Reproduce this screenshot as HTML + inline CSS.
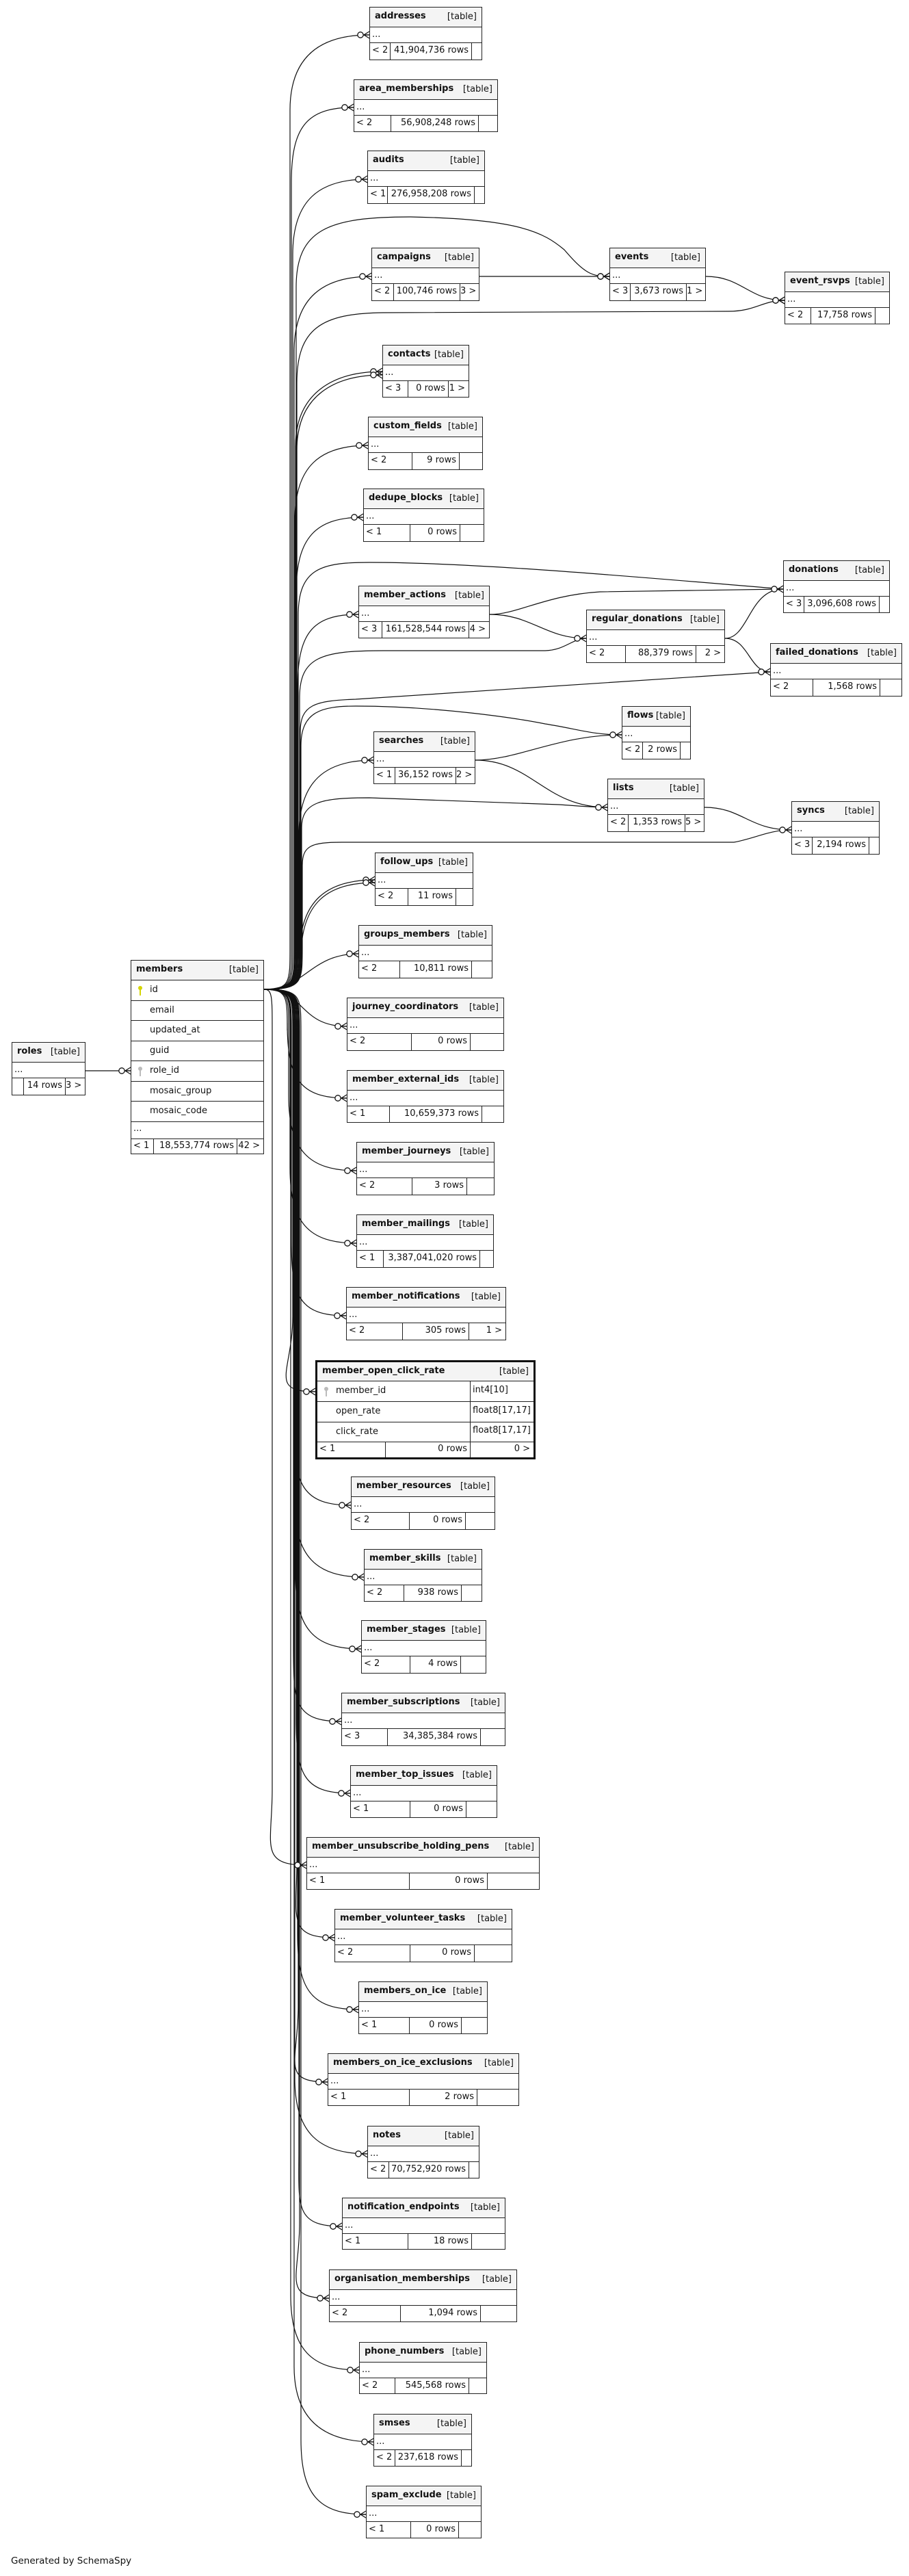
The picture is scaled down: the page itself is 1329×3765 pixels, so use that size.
<!DOCTYPE html>
<html><head><meta charset="utf-8">
<style>
*{box-sizing:border-box;margin:0;padding:0}
body{width:1329px;height:3765px;background:#fff;position:relative;font-family:"DejaVu Sans","Liberation Sans",sans-serif;font-size:13px;color:#111;overflow:hidden}
svg#L{position:absolute;left:0;top:0}
.t{position:absolute;border:1.5px solid #222;background:#fff}
.h{position:absolute;left:0;right:0;top:0;height:29px;background:#f4f4f4;border-bottom:1.5px solid #222}
.h b{position:absolute;left:7px;top:5px;font-weight:bold}
.h i{position:absolute;right:7px;top:6px;font-style:normal}
.r{position:absolute;left:0;right:0;top:29px;height:23px;border-bottom:1.5px solid #222;padding:2px 0 0 3px;line-height:18px}
.f{position:absolute;left:0;right:0;bottom:0;top:52px}
.f span{position:absolute;top:0;bottom:0;line-height:22px;white-space:nowrap}
.f .a{left:3px}
.f .m{border-left:1.5px solid #222;text-align:right;padding-right:4px}
.f .z{border-left:1.5px solid #222;right:0;text-align:right;padding-right:5px}
.mr{position:absolute;left:0;right:0;border-bottom:1.5px solid #222;padding-left:27px;line-height:28px}
.key{position:absolute;left:9px;top:7px}
#gen{position:absolute;left:16px;top:3735px;font-size:13.5px}
</style></head><body>
<svg id="L" width="1329" height="3765" xmlns="http://www.w3.org/2000/svg"><g id="paths" fill="none" stroke="#111" stroke-width="1.2"></g><g id="marks" stroke="#111" stroke-width="1.3"></g></svg>

<!-- roles -->
<div class="t" style="left:17px;top:1523px;width:108px;height:78px"><div class="h"><b>roles</b><i>[table]</i></div><div class="r">...</div><div class="f"><span class="a"></span><span class="m" style="left:16px;width:61px">14 rows</span><span class="z" style="left:77px">3 &gt;</span></div></div>

<!-- members -->
<div class="t" style="left:191px;top:1403px;width:195px;height:284px">
<div class="h"><b>members</b><i>[table]</i></div>
<div class="mr" style="top:29px;height:29.5px"><svg class="key" width="8" height="16"><circle cx="4" cy="4" r="3" fill="#d4d400"/><rect x="3" y="6" width="2" height="9" fill="#d4d400"/></svg>id</div>
<div class="mr" style="top:58.5px;height:29.5px">email</div>
<div class="mr" style="top:88px;height:29.5px">updated_at</div>
<div class="mr" style="top:117.5px;height:29.5px">guid</div>
<div class="mr" style="top:147px;height:29.5px"><svg class="key" width="8" height="16"><circle cx="4" cy="4" r="3" fill="#bbb"/><rect x="3" y="6" width="2" height="9" fill="#bbb"/></svg>role_id</div>
<div class="mr" style="top:176.5px;height:29.5px">mosaic_group</div>
<div class="mr" style="top:206px;height:29.5px">mosaic_code</div>
<div class="mr" style="top:235.5px;height:25px;padding-left:3px;line-height:20px">...</div>
<div class="f" style="top:260px"><span class="a">&lt; 1</span><span class="m" style="left:32px;width:122px">18,553,774 rows</span><span class="z" style="left:154px">42 &gt;</span></div>
</div>

<!-- member_open_click_rate -->
<div class="t" style="left:461px;top:1988px;width:322px;height:145px;border:3px solid #111">
<div class="h" style="height:28px"><b>member_open_click_rate</b><i>[table]</i></div>
<div class="mr" style="top:28px;height:30px">member_id<svg class="key" width="8" height="16"><circle cx="4" cy="4" r="3" fill="#bbb"/><rect x="3" y="6" width="2" height="9" fill="#bbb"/></svg></div>
<div class="mr" style="top:58px;height:29.5px">open_rate</div>
<div class="mr" style="top:87.5px;height:29.5px">click_rate</div>
<div style="position:absolute;left:223px;top:28px;height:89px;border-left:1.5px solid #222;width:95px">
<div style="position:absolute;left:3px;top:5px">int4[10]</div>
<div style="position:absolute;left:3px;top:35px">float8[17,17]</div>
<div style="position:absolute;left:3px;top:64px">float8[17,17]</div></div>
<div class="f" style="top:117px"><span class="a" style="line-height:20px">&lt; 1</span><span class="m" style="left:99px;width:124px;line-height:20px">0 rows</span><span class="z" style="left:223px;line-height:20px">0 &gt;</span></div>
</div>

<div id="tables">
<div class="t" style="left:540px;top:10px;width:165px;height:78px"><div class="h"><b>addresses</b><i>[table]</i></div><div class="r">...</div><div class="f"><span class="a">&lt; 2</span><span class="m" style="left:29px;width:119px">41,904,736 rows</span><span class="z" style="left:148px"></span></div></div>
<div class="t" style="left:517px;top:116px;width:211px;height:77px"><div class="h"><b>area_memberships</b><i>[table]</i></div><div class="r">...</div><div class="f"><span class="a">&lt; 2</span><span class="m" style="left:53px;width:128px">56,908,248 rows</span><span class="z" style="left:181px"></span></div></div>
<div class="t" style="left:537px;top:220px;width:172px;height:78px"><div class="h"><b>audits</b><i>[table]</i></div><div class="r">...</div><div class="f"><span class="a">&lt; 1</span><span class="m" style="left:28px;width:127px">276,958,208 rows</span><span class="z" style="left:155px"></span></div></div>
<div class="t" style="left:543px;top:362px;width:158px;height:78px"><div class="h"><b>campaigns</b><i>[table]</i></div><div class="r">...</div><div class="f"><span class="a">&lt; 2</span><span class="m" style="left:31px;width:97px">100,746 rows</span><span class="z" style="left:128px">3 &gt;</span></div></div>
<div class="t" style="left:891px;top:362px;width:141px;height:78px"><div class="h"><b>events</b><i>[table]</i></div><div class="r">...</div><div class="f"><span class="a">&lt; 3</span><span class="m" style="left:29px;width:82px">3,673 rows</span><span class="z" style="left:111px">1 &gt;</span></div></div>
<div class="t" style="left:1147px;top:397px;width:154px;height:77px"><div class="h"><b>event_rsvps</b><i>[table]</i></div><div class="r">...</div><div class="f"><span class="a">&lt; 2</span><span class="m" style="left:37px;width:94px">17,758 rows</span><span class="z" style="left:131px"></span></div></div>
<div class="t" style="left:559px;top:504px;width:127px;height:77px"><div class="h"><b>contacts</b><i>[table]</i></div><div class="r">...</div><div class="f"><span class="a">&lt; 3</span><span class="m" style="left:36px;width:59px">0 rows</span><span class="z" style="left:95px">1 &gt;</span></div></div>
<div class="t" style="left:538px;top:609px;width:168px;height:78px"><div class="h"><b>custom_fields</b><i>[table]</i></div><div class="r">...</div><div class="f"><span class="a">&lt; 2</span><span class="m" style="left:63px;width:69px">9 rows</span><span class="z" style="left:132px"></span></div></div>
<div class="t" style="left:531px;top:714px;width:177px;height:78px"><div class="h"><b>dedupe_blocks</b><i>[table]</i></div><div class="r">...</div><div class="f"><span class="a">&lt; 1</span><span class="m" style="left:67px;width:73px">0 rows</span><span class="z" style="left:140px"></span></div></div>
<div class="t" style="left:1145px;top:819px;width:156px;height:77px"><div class="h"><b>donations</b><i>[table]</i></div><div class="r">...</div><div class="f"><span class="a">&lt; 3</span><span class="m" style="left:29px;width:110px">3,096,608 rows</span><span class="z" style="left:139px"></span></div></div>
<div class="t" style="left:524px;top:856px;width:192px;height:77px"><div class="h"><b>member_actions</b><i>[table]</i></div><div class="r">...</div><div class="f"><span class="a">&lt; 3</span><span class="m" style="left:33px;width:127px">161,528,544 rows</span><span class="z" style="left:160px">4 &gt;</span></div></div>
<div class="t" style="left:857px;top:891px;width:203px;height:78px"><div class="h"><b>regular_donations</b><i>[table]</i></div><div class="r">...</div><div class="f"><span class="a">&lt; 2</span><span class="m" style="left:56px;width:103px">88,379 rows</span><span class="z" style="left:159px">2 &gt;</span></div></div>
<div class="t" style="left:1126px;top:940px;width:193px;height:78px"><div class="h"><b>failed_donations</b><i>[table]</i></div><div class="r">...</div><div class="f"><span class="a">&lt; 2</span><span class="m" style="left:61px;width:98px">1,568 rows</span><span class="z" style="left:159px"></span></div></div>
<div class="t" style="left:909px;top:1032px;width:101px;height:78px"><div class="h"><b>flows</b><i>[table]</i></div><div class="r">...</div><div class="f"><span class="a">&lt; 2</span><span class="m" style="left:29px;width:55px">2 rows</span><span class="z" style="left:84px"></span></div></div>
<div class="t" style="left:546px;top:1069px;width:149px;height:77px"><div class="h"><b>searches</b><i>[table]</i></div><div class="r">...</div><div class="f"><span class="a">&lt; 1</span><span class="m" style="left:30px;width:89px">36,152 rows</span><span class="z" style="left:119px">2 &gt;</span></div></div>
<div class="t" style="left:888px;top:1138px;width:142px;height:78px"><div class="h"><b>lists</b><i>[table]</i></div><div class="r">...</div><div class="f"><span class="a">&lt; 2</span><span class="m" style="left:29px;width:83px">1,353 rows</span><span class="z" style="left:112px">5 &gt;</span></div></div>
<div class="t" style="left:1157px;top:1171px;width:129px;height:78px"><div class="h"><b>syncs</b><i>[table]</i></div><div class="r">...</div><div class="f"><span class="a">&lt; 3</span><span class="m" style="left:29px;width:83px">2,194 rows</span><span class="z" style="left:112px"></span></div></div>
<div class="t" style="left:548px;top:1246px;width:144px;height:78px"><div class="h"><b>follow_ups</b><i>[table]</i></div><div class="r">...</div><div class="f"><span class="a">&lt; 2</span><span class="m" style="left:47px;width:70px">11 rows</span><span class="z" style="left:117px"></span></div></div>
<div class="t" style="left:524px;top:1352px;width:196px;height:78px"><div class="h"><b>groups_members</b><i>[table]</i></div><div class="r">...</div><div class="f"><span class="a">&lt; 2</span><span class="m" style="left:59px;width:105px">10,811 rows</span><span class="z" style="left:164px"></span></div></div>
<div class="t" style="left:507px;top:1458px;width:230px;height:78px"><div class="h"><b>journey_coordinators</b><i>[table]</i></div><div class="r">...</div><div class="f"><span class="a">&lt; 2</span><span class="m" style="left:93px;width:86px">0 rows</span><span class="z" style="left:179px"></span></div></div>
<div class="t" style="left:507px;top:1564px;width:230px;height:77px"><div class="h"><b>member_external_ids</b><i>[table]</i></div><div class="r">...</div><div class="f"><span class="a">&lt; 1</span><span class="m" style="left:61px;width:135px">10,659,373 rows</span><span class="z" style="left:196px"></span></div></div>
<div class="t" style="left:521px;top:1669px;width:202px;height:78px"><div class="h"><b>member_journeys</b><i>[table]</i></div><div class="r">...</div><div class="f"><span class="a">&lt; 2</span><span class="m" style="left:80px;width:80px">3 rows</span><span class="z" style="left:160px"></span></div></div>
<div class="t" style="left:521px;top:1775px;width:201px;height:78px"><div class="h"><b>member_mailings</b><i>[table]</i></div><div class="r">...</div><div class="f"><span class="a">&lt; 1</span><span class="m" style="left:38px;width:141px">3,387,041,020 rows</span><span class="z" style="left:179px"></span></div></div>
<div class="t" style="left:506px;top:1881px;width:234px;height:78px"><div class="h"><b>member_notifications</b><i>[table]</i></div><div class="r">...</div><div class="f"><span class="a">&lt; 2</span><span class="m" style="left:81px;width:97px">305 rows</span><span class="z" style="left:178px">1 &gt;</span></div></div>
<div class="t" style="left:513px;top:2158px;width:211px;height:78px"><div class="h"><b>member_resources</b><i>[table]</i></div><div class="r">...</div><div class="f"><span class="a">&lt; 2</span><span class="m" style="left:84px;width:82px">0 rows</span><span class="z" style="left:166px"></span></div></div>
<div class="t" style="left:532px;top:2264px;width:173px;height:77px"><div class="h"><b>member_skills</b><i>[table]</i></div><div class="r">...</div><div class="f"><span class="a">&lt; 2</span><span class="m" style="left:57px;width:84px">938 rows</span><span class="z" style="left:141px"></span></div></div>
<div class="t" style="left:528px;top:2368px;width:183px;height:78px"><div class="h"><b>member_stages</b><i>[table]</i></div><div class="r">...</div><div class="f"><span class="a">&lt; 2</span><span class="m" style="left:70px;width:74px">4 rows</span><span class="z" style="left:144px"></span></div></div>
<div class="t" style="left:499px;top:2474px;width:240px;height:78px"><div class="h"><b>member_subscriptions</b><i>[table]</i></div><div class="r">...</div><div class="f"><span class="a">&lt; 3</span><span class="m" style="left:66px;width:136px">34,385,384 rows</span><span class="z" style="left:202px"></span></div></div>
<div class="t" style="left:512px;top:2580px;width:215px;height:77px"><div class="h"><b>member_top_issues</b><i>[table]</i></div><div class="r">...</div><div class="f"><span class="a">&lt; 1</span><span class="m" style="left:86px;width:82px">0 rows</span><span class="z" style="left:168px"></span></div></div>
<div class="t" style="left:448px;top:2685px;width:341px;height:77px"><div class="h"><b>member_unsubscribe_holding_pens</b><i>[table]</i></div><div class="r">...</div><div class="f"><span class="a">&lt; 1</span><span class="m" style="left:149px;width:114px">0 rows</span><span class="z" style="left:263px"></span></div></div>
<div class="t" style="left:489px;top:2790px;width:260px;height:78px"><div class="h"><b>member_volunteer_tasks</b><i>[table]</i></div><div class="r">...</div><div class="f"><span class="a">&lt; 2</span><span class="m" style="left:109px;width:94px">0 rows</span><span class="z" style="left:203px"></span></div></div>
<div class="t" style="left:524px;top:2896px;width:189px;height:77px"><div class="h"><b>members_on_ice</b><i>[table]</i></div><div class="r">...</div><div class="f"><span class="a">&lt; 1</span><span class="m" style="left:73px;width:76px">0 rows</span><span class="z" style="left:149px"></span></div></div>
<div class="t" style="left:479px;top:3001px;width:280px;height:77px"><div class="h"><b>members_on_ice_exclusions</b><i>[table]</i></div><div class="r">...</div><div class="f"><span class="a">&lt; 1</span><span class="m" style="left:118px;width:99px">2 rows</span><span class="z" style="left:217px"></span></div></div>
<div class="t" style="left:537px;top:3107px;width:164px;height:77px"><div class="h"><b>notes</b><i>[table]</i></div><div class="r">...</div><div class="f"><span class="a">&lt; 2</span><span class="m" style="left:30px;width:117px">70,752,920 rows</span><span class="z" style="left:147px"></span></div></div>
<div class="t" style="left:500px;top:3212px;width:239px;height:76px"><div class="h"><b>notification_endpoints</b><i>[table]</i></div><div class="r">...</div><div class="f"><span class="a">&lt; 1</span><span class="m" style="left:95px;width:93px">18 rows</span><span class="z" style="left:188px"></span></div></div>
<div class="t" style="left:481px;top:3317px;width:275px;height:77px"><div class="h"><b>organisation_memberships</b><i>[table]</i></div><div class="r">...</div><div class="f"><span class="a">&lt; 2</span><span class="m" style="left:103px;width:117px">1,094 rows</span><span class="z" style="left:220px"></span></div></div>
<div class="t" style="left:525px;top:3423px;width:187px;height:76px"><div class="h"><b>phone_numbers</b><i>[table]</i></div><div class="r">...</div><div class="f"><span class="a">&lt; 2</span><span class="m" style="left:51px;width:108px">545,568 rows</span><span class="z" style="left:159px"></span></div></div>
<div class="t" style="left:546px;top:3528px;width:144px;height:77px"><div class="h"><b>smses</b><i>[table]</i></div><div class="r">...</div><div class="f"><span class="a">&lt; 2</span><span class="m" style="left:30px;width:97px">237,618 rows</span><span class="z" style="left:127px"></span></div></div>
<div class="t" style="left:535px;top:3633px;width:169px;height:77px"><div class="h"><b>spam_exclude</b><i>[table]</i></div><div class="r">...</div><div class="f"><span class="a">&lt; 1</span><span class="m" style="left:64px;width:70px">0 rows</span><span class="z" style="left:134px"></span></div></div>
</div>

<div id="gen">Generated by SchemaSpy</div>

<script>
(function(){
var P=document.getElementById('paths'),M=document.getElementById('marks'),NS='http://www.w3.org/2000/svg';
function path(d){var p=document.createElementNS(NS,'path');p.setAttribute('d',d);P.appendChild(p);}
function mark(x,y){
 var l=[[x-8,y,x,y-5],[x-8,y,x,y],[x-8,y,x,y+5]];
 l.forEach(function(a){var e=document.createElementNS(NS,'line');e.setAttribute('x1',a[0]);e.setAttribute('y1',a[1]);e.setAttribute('x2',a[2]);e.setAttribute('y2',a[3]);M.appendChild(e);});
 var c=document.createElementNS(NS,'circle');c.setAttribute('cx',x-13);c.setAttribute('cy',y);c.setAttribute('r',4.2);c.setAttribute('fill','#fff');M.appendChild(c);
}
var sx=386,sy=1446;
var T=[[540,51,424],[517,157,426],[537,262,428],[543,404,430],[559,543,432],[559,548,434],[538,651,431],[531,756,433],[524,898,435],[546,1111,437],[548,1286,438],[548,1290,440],
[524,1394,0],[507,1500,0],[507,1605,420],[521,1711,422],[521,1817,424],[506,1923,426],[461,2034,428],[513,2200,430],[532,2305,431],[528,2410,432],[499,2516,429],[512,2621,433],[448,2726,398],[489,2832,434],[524,2937,435],[479,3043,436],[537,3148,431],[500,3254,437],[481,3359,438],[525,3464,425],[546,3569,430],[535,3675,440]];
T.forEach(function(t){
 var tx=t[0],ty=t[1],bx=t[2];
 if(!bx){path('M'+sx+','+sy+' C'+(sx+60)+','+sy+' '+(tx-70)+','+ty+' '+tx+','+ty);}
 else if(ty<sy){path('M'+sx+','+sy+' C'+bx+','+sy+' '+bx+','+(sy-10)+' '+bx+','+(sy-60)+' L'+bx+','+(ty+110)+' C'+bx+','+(ty+30)+' '+(tx-70)+','+ty+' '+tx+','+ty);}
 else {path('M'+sx+','+sy+' C'+bx+','+sy+' '+bx+','+(sy+10)+' '+bx+','+(sy+60)+' L'+bx+','+(ty-110)+' C'+bx+','+(ty-30)+' '+(tx-70)+','+ty+' '+tx+','+ty);}
 mark(tx,ty);
});
function up(bx,y){return 'M'+sx+','+sy+' C'+bx+','+sy+' '+bx+','+(sy-10)+' '+bx+','+(sy-60)+' L'+bx+','+y;}
path('M701,404 L891,404');mark(891,404);
path('M1032,404 C1085,404 1095,439 1147,439');mark(1147,439);
path(up(433,420)+' C433,335 480,317 600,317 C760,320 795,340 825,365 C855,400 865,404 891,404');mark(891,404);
path(up(434,560)+' C434,480 470,458 560,457 L1065,455 C1105,455 1115,439 1147,439');mark(1147,439);
path(up(436,900)+' C436,830 470,822 540,822 C700,822 950,845 1145,861');
path('M716,898 C757,898 797,870 877,865 L1145,861');
path('M1060,933 C1095,933 1095,861 1145,861');mark(1145,861);
path('M716,898 C777,898 797,933 857,933');
path(up(438,1020)+' C438,960 470,951 560,951 L797,951 C827,950 837,933 857,933');mark(857,933);
path('M1060,933 C1095,933 1095,982 1126,982');
path(up(439,1070)+' C439,1030 460,1024 520,1022 L1126,982');mark(1126,982);
path(up(440,1090)+' C440,1040 470,1032 520,1032 C640,1032 757,1050 797,1058 C847,1066 867,1074 909,1074');
path('M695,1111 C757,1111 817,1074 909,1074');mark(909,1074);
path('M695,1111 C777,1111 797,1180 888,1180');
path(up(441,1210)+' C441,1172 470,1166 540,1166 L817,1176 C847,1178 867,1180 888,1180');mark(888,1180);
path('M1030,1180 C1085,1180 1095,1213 1157,1213');
path(up(442,1265)+' C442,1236 455,1231 500,1231 L1073,1231 C1105,1225 1125,1213 1157,1213');mark(1157,1213);
path('M125,1565 L191,1565');mark(191,1565);
})();
</script>
</body></html>
